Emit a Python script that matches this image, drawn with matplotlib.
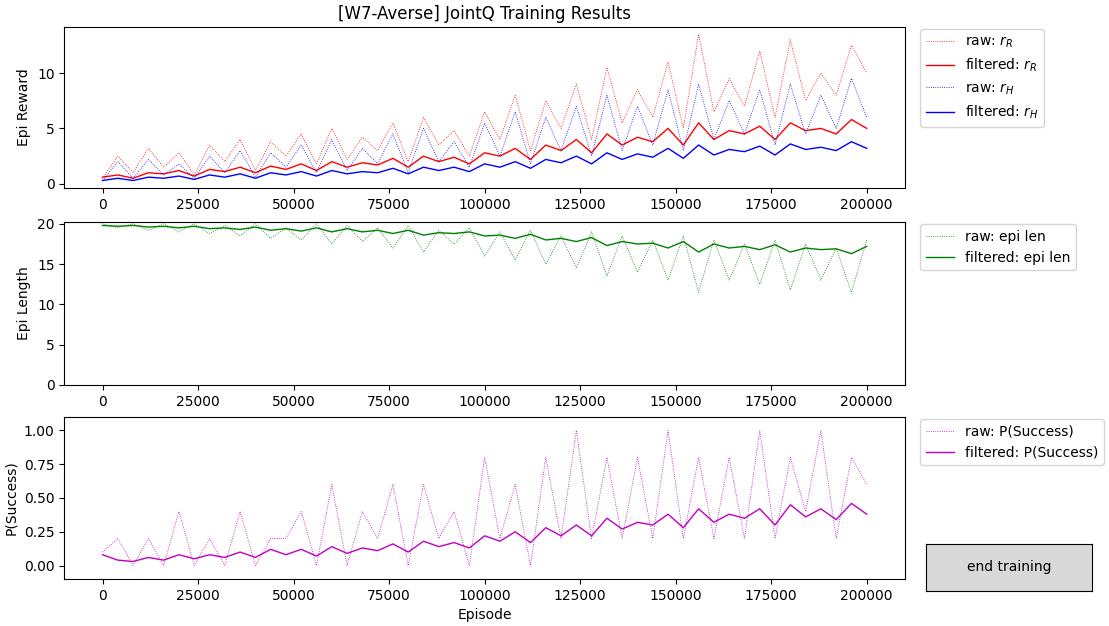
import numpy as np
import matplotlib
matplotlib.use("Agg")
import matplotlib.pyplot as plt

episodes = np.arange(0, 200001, 4000)

raw_rR = [0.5, 2.5, 1.0, 3.2, 1.5, 2.8, 0.8, 3.5, 2.0, 4.0, 1.2, 3.8, 2.5, 4.5, 1.8, 5.0, 2.2,
          4.2, 3.0, 5.5, 2.0, 6.0, 3.5, 4.8, 2.5, 6.5, 4.0, 8.0, 3.0, 7.5, 5.0, 9.0, 4.0, 10.5,
          5.5, 8.5, 6.0, 11.0, 5.0, 13.5, 6.5, 9.5, 7.0, 12.0, 6.0, 13.0, 7.5, 10.0, 8.0, 12.5, 10.0]
filt_rR = [0.6, 0.8, 0.5, 1.0, 0.9, 1.2, 0.7, 1.3, 1.1, 1.5, 1.0, 1.6, 1.3, 1.8, 1.2, 2.0, 1.5,
           1.9, 1.7, 2.3, 1.5, 2.5, 2.0, 2.4, 1.8, 2.8, 2.5, 3.2, 2.2, 3.5, 3.0, 4.0, 2.8, 4.5,
           3.5, 4.2, 3.8, 5.0, 3.5, 5.5, 4.0, 4.8, 4.5, 5.2, 4.0, 5.5, 4.8, 5.0, 4.5, 5.8, 5.0]
raw_rH = [0.3, 2.0, 0.5, 2.2, 0.8, 1.8, 0.5, 2.5, 1.0, 3.0, 0.6, 2.8, 1.5, 3.5, 1.0, 4.0, 1.2,
          3.2, 1.8, 4.5, 1.0, 5.0, 2.0, 3.8, 1.5, 5.5, 2.5, 6.5, 1.8, 6.0, 3.0, 7.0, 2.5, 8.0,
          3.0, 7.0, 3.5, 8.5, 3.0, 9.0, 4.0, 7.5, 4.5, 8.5, 3.5, 9.0, 4.5, 8.0, 5.0, 9.5, 6.0]
filt_rH = [0.3, 0.5, 0.3, 0.6, 0.5, 0.7, 0.4, 0.8, 0.6, 0.9, 0.5, 1.0, 0.8, 1.1, 0.7, 1.2, 0.9,
           1.1, 1.0, 1.4, 0.9, 1.5, 1.2, 1.5, 1.1, 1.8, 1.5, 2.0, 1.4, 2.2, 1.9, 2.5, 1.8, 2.8,
           2.2, 2.7, 2.4, 3.2, 2.3, 3.5, 2.6, 3.1, 2.9, 3.4, 2.6, 3.6, 3.1, 3.3, 3.0, 3.8, 3.2]
raw_len = [20, 19.5, 20, 19.2, 20, 19.0, 20, 18.8, 19.8, 18.5, 20, 18.2, 19.5, 18.0, 20, 17.5, 19.8,
           17.8, 19.5, 17.0, 19.8, 16.5, 19.2, 17.5, 19.5, 16.0, 19.0, 15.5, 19.2, 15.0, 18.5, 14.5, 19.0,
           13.5, 18.5, 14.0, 18.0, 13.0, 18.5, 11.5, 18.0, 13.0, 17.5, 12.5, 18.0, 11.8, 17.5, 13.0, 17.0, 11.5, 18.0]
filt_len = [19.8, 19.7, 19.8, 19.6, 19.7, 19.5, 19.7, 19.4, 19.5, 19.3, 19.6, 19.2, 19.4, 19.1, 19.5, 19.0, 19.4,
            19.0, 19.2, 18.8, 19.2, 18.6, 18.9, 18.8, 19.0, 18.5, 18.6, 18.2, 18.7, 18.0, 18.2, 17.8, 18.3,
            17.3, 17.8, 17.5, 17.6, 17.0, 17.8, 16.5, 17.5, 17.0, 17.2, 16.8, 17.4, 16.5, 17.0, 16.8, 16.9, 16.3, 17.2]
raw_ps = [0.1, 0.2, 0.0, 0.2, 0.0, 0.4, 0.0, 0.2, 0.0, 0.4, 0.0, 0.2, 0.2, 0.4, 0.0, 0.6, 0.0,
          0.4, 0.2, 0.6, 0.0, 0.6, 0.2, 0.4, 0.0, 0.8, 0.2, 0.6, 0.0, 0.8, 0.2, 1.0, 0.2, 0.8,
          0.2, 0.8, 0.2, 1.0, 0.2, 0.8, 0.2, 0.8, 0.2, 1.0, 0.2, 0.8, 0.4, 1.0, 0.2, 0.8, 0.6]
filt_ps = [0.08, 0.04, 0.03, 0.06, 0.04, 0.08, 0.05, 0.08, 0.06, 0.1, 0.06, 0.12, 0.08, 0.12, 0.07, 0.14, 0.09,
           0.13, 0.11, 0.16, 0.1, 0.18, 0.14, 0.17, 0.13, 0.22, 0.18, 0.25, 0.17, 0.28, 0.22, 0.3, 0.22, 0.35,
           0.27, 0.32, 0.3, 0.38, 0.28, 0.42, 0.32, 0.38, 0.35, 0.42, 0.3, 0.45, 0.36, 0.42, 0.34, 0.46, 0.38]

fig = plt.figure(figsize=(11.09, 6.26), dpi=100)
ax1 = fig.add_axes([0.058, 0.70, 0.758, 0.257])
ax2 = fig.add_axes([0.058, 0.385, 0.758, 0.26])
ax3 = fig.add_axes([0.058, 0.075, 0.758, 0.259])

ax1.plot(episodes, raw_rR, color="r", ls=":", lw=0.6, label="raw: $r_R$")
ax1.plot(episodes, filt_rR, color="r", lw=1, label="filtered: $r_R$")
ax1.plot(episodes, raw_rH, color="b", ls=":", lw=0.6, label="raw: $r_H$")
ax1.plot(episodes, filt_rH, color="b", lw=1, label="filtered: $r_H$")
ax1.set_ylabel("Epi Reward")
ax1.set_title("[W7-Averse] JointQ Training Results")

ax2.plot(episodes, raw_len, color="g", ls=":", lw=0.6, label="raw: epi len")
ax2.plot(episodes, filt_len, color="g", lw=1, label="filtered: epi len")
ax2.set_ylabel("Epi Length")
ax2.set_ylim(0, 20.2)

ax3.plot(episodes, raw_ps, color="m", ls=":", lw=0.6, label="raw: P(Success)")
ax3.plot(episodes, filt_ps, color="m", lw=1, label="filtered: P(Success)")
ax3.set_ylabel("P(Success)")
ax3.set_xlabel("Episode")
ax3.set_ylim(-0.1, 1.1)

for ax in (ax1, ax2, ax3):
    ax.set_xlim(-10000, 210000)
    ax.set_xticks(range(0, 200001, 25000))
    ax.legend(loc="upper left", bbox_to_anchor=(1.01, 1.03))

btn = fig.add_axes([0.835, 0.056, 0.15, 0.075])
btn.set_facecolor("#d9d9d9")
btn.set_xticks([])
btn.set_yticks([])
btn.text(0.5, 0.5, "end training", ha="center", va="center", transform=btn.transAxes)

fig.savefig("out.png")
